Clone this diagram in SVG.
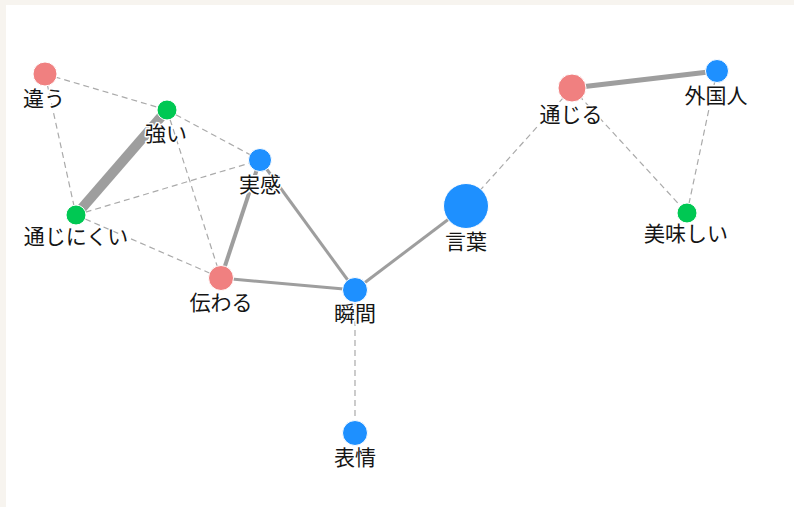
<svg xmlns="http://www.w3.org/2000/svg" width="794" height="507" viewBox="0 0 794 507">
<style>
.bg{fill:#f7f4ef}
.panel{fill:#ffffff}
.e{stroke:#9e9e9e;fill:none;stroke-linecap:butt}
.d{stroke:#aaaaaa;stroke-width:1.2;stroke-dasharray:6 4;fill:none}
.n{stroke:#ffffff;stroke-width:1}
.red{fill:#f08080}
.green{fill:#00c853}
.blue{fill:#1e90ff}
.lbl{font-family:"Noto Sans CJK JP","Noto Sans",sans-serif;font-size:21px;fill:#151515;text-anchor:middle;stroke:#ffffff;stroke-width:3;paint-order:stroke;stroke-linejoin:round}
</style>
<rect class="bg" x="0" y="0" width="794" height="507"/>
<rect class="panel" x="6" y="5" width="788" height="502"/>
<g id="edges">
<line class="d" x1="45" y1="74" x2="167" y2="110"/>
<line class="d" x1="45" y1="74" x2="76" y2="215"/>
<line class="e" stroke-width="10" x1="167" y1="110" x2="76" y2="215"/>
<line class="d" x1="167" y1="110" x2="260" y2="160"/>
<line class="d" x1="167" y1="110" x2="221" y2="278"/>
<line class="d" x1="76" y1="215" x2="260" y2="160"/>
<line class="d" x1="76" y1="215" x2="221" y2="278"/>
<line class="e" stroke-width="4" x1="260" y1="160" x2="221" y2="278"/>
<line class="e" stroke-width="3" x1="260" y1="160" x2="355" y2="290"/>
<line class="e" stroke-width="3" x1="221" y1="278" x2="355" y2="290"/>
<line class="e" stroke-width="3" x1="355" y1="290" x2="466" y2="206"/>
<line class="d" x1="355" y1="290" x2="355" y2="433"/>
<line class="d" x1="466" y1="206" x2="572" y2="88"/>
<line class="e" stroke-width="5" x1="572" y1="88" x2="717" y2="71"/>
<line class="d" x1="572" y1="88" x2="687" y2="213"/>
<line class="d" x1="717" y1="71" x2="687" y2="213"/>
</g>
<g id="node-chigau"><circle class="n red" cx="45" cy="74" r="12"/><text class="lbl" x="44" y="105.5">違う</text></g>
<g id="node-tsuyoi"><circle class="n green" cx="167" cy="110" r="10"/><text class="lbl" x="166" y="140.5">強い</text></g>
<g id="node-jikkan"><circle class="n blue" cx="260" cy="160" r="11.5"/><text class="lbl" x="260" y="191.5">実感</text></g>
<g id="node-tsujinikui"><circle class="n green" cx="76" cy="215" r="10"/><text class="lbl" x="76" y="243.5">通じにくい</text></g>
<g id="node-tsutawaru"><circle class="n red" cx="221" cy="278" r="12.5"/><text class="lbl" x="221" y="309.5">伝わる</text></g>
<g id="node-shunkan"><circle class="n blue" cx="355" cy="290" r="12.5"/><text class="lbl" x="355" y="320.5">瞬間</text></g>
<g id="node-hyoujou"><circle class="n blue" cx="355" cy="433" r="12.5"/><text class="lbl" x="355" y="464.5">表情</text></g>
<g id="node-kotoba"><circle class="n blue" cx="466" cy="206" r="22.5"/><text class="lbl" x="466" y="248.5">言葉</text></g>
<g id="node-tsujiru"><circle class="n red" cx="572" cy="88" r="14"/><text class="lbl" x="571" y="121.5">通じる</text></g>
<g id="node-gaikokujin"><circle class="n blue" cx="717" cy="71" r="11.5"/><text class="lbl" x="716" y="102.5">外国人</text></g>
<g id="node-oishii"><circle class="n green" cx="687" cy="213" r="10"/><text class="lbl" x="686" y="240.5">美味しい</text></g>
</svg>
